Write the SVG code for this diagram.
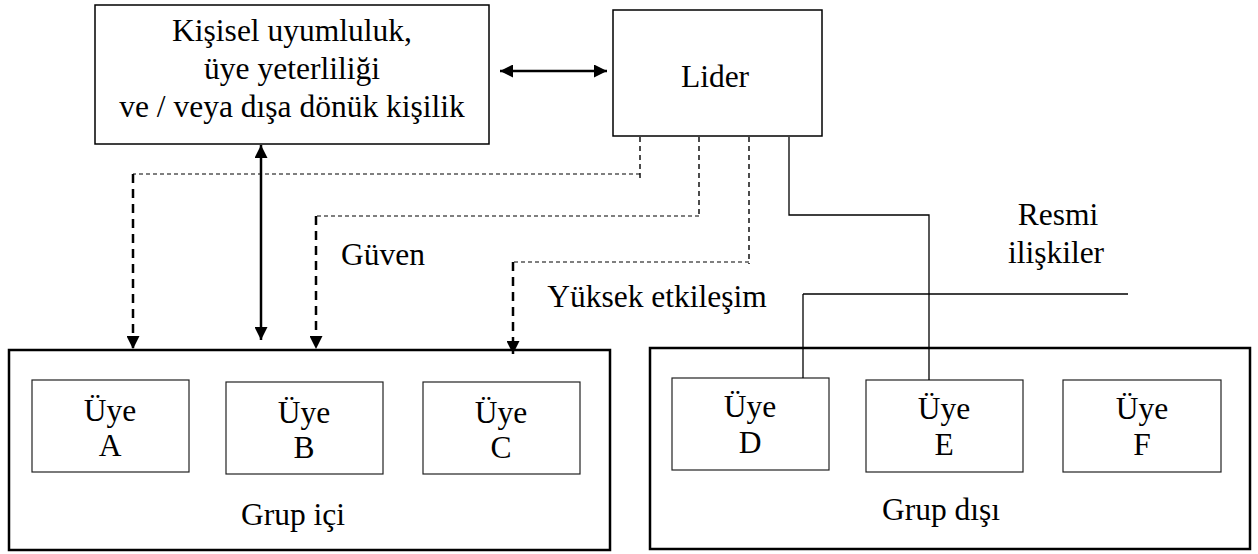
<svg xmlns="http://www.w3.org/2000/svg" width="1258" height="554" viewBox="0 0 1258 554">
<style>
text{font-family:"Liberation Serif","Times New Roman",serif;font-size:31.5px;fill:#000;text-anchor:middle}
.box{fill:#fff;stroke:#000;stroke-width:1.5}
.grp{fill:#fff;stroke:#000;stroke-width:2.5}
.mem{fill:#fff;stroke:#222;stroke-width:1.2}
.solid{fill:none;stroke:#000;stroke-width:1.3}
.thick{fill:none;stroke:#000;stroke-width:2.5}
.dh{fill:none;stroke:#000;stroke-width:1.2;stroke-dasharray:4 3}
.dv{fill:none;stroke:#000;stroke-width:1.4;stroke-dasharray:5 4}
.dvb{fill:none;stroke:#000;stroke-width:2.5;stroke-dasharray:9 6}
</style>
<defs>
<marker id="ahs" viewBox="0 0 10 10" refX="10" refY="5" markerWidth="13" markerHeight="13" markerUnits="userSpaceOnUse" orient="auto-start-reverse">
<path d="M0,0 L10,5 L0,10 z" fill="#000"/>
</marker>
</defs>

<g id="groupIn">
<rect class="grp" x="9" y="350" width="601" height="200"/>
<text x="293" y="525">Grup içi</text>
</g>
<g id="groupOut">
<rect class="grp" x="650" y="348" width="600" height="201"/>
<text x="941" y="520">Grup dışı</text>
</g>

<g id="personal">
<rect class="box" x="95" y="5" width="394" height="139"/>
<text x="292" y="41">Kişisel uyumluluk,</text>
<text x="292" y="79">üye yeterliliği</text>
<text x="292" y="117">ve / veya dışa dönük kişilik</text>
</g>
<g id="leader">
<rect class="box" x="613" y="10" width="209" height="126"/>
<text x="715" y="87">Lider</text>
</g>

<g id="memberA"><rect class="mem" x="32" y="380" width="157" height="92"/><text x="110" y="421">Üye</text><text x="110" y="456">A</text></g>
<g id="memberB"><rect class="mem" x="226" y="382" width="157" height="92"/><text x="304" y="423">Üye</text><text x="304" y="458">B</text></g>
<g id="memberC"><rect class="mem" x="423" y="382" width="157" height="92"/><text x="501" y="423">Üye</text><text x="501" y="458">C</text></g>
<g id="memberD"><rect class="mem" x="672" y="378" width="157" height="92"/><text x="750" y="417">Üye</text><text x="750" y="453">D</text></g>
<g id="memberE"><rect class="mem" x="866" y="380" width="157" height="92"/><text x="944" y="419">Üye</text><text x="944" y="455">E</text></g>
<g id="memberF"><rect class="mem" x="1063" y="380" width="158" height="92"/><text x="1142" y="419">Üye</text><text x="1142" y="455">F</text></g>

<g id="labels">
<text x="383" y="265">Güven</text>
<text x="657" y="307">Yüksek etkileşim</text>
<text x="1058" y="225">Resmi</text>
<text x="1056" y="263">ilişkiler</text>
</g>

<g id="connectors">
<line class="thick" x1="500" y1="71" x2="607" y2="71" marker-start="url(#ahs)" marker-end="url(#ahs)"/>
<line class="thick" x1="261" y1="145" x2="261" y2="340" marker-start="url(#ahs)" marker-end="url(#ahs)"/>
<polyline class="dv" points="640,137 640,180"/>
<polyline class="dh" points="640,174 133,174"/>
<line class="dvb" x1="133" y1="174" x2="133" y2="349" marker-end="url(#ahs)"/>
<polyline class="dv" points="699,137 699,217"/>
<polyline class="dh" points="699,216 316,216"/>
<line class="dvb" x1="316" y1="216" x2="316" y2="349" marker-end="url(#ahs)"/>
<polyline class="dv" points="749,137 749,264"/>
<polyline class="dh" points="749,262 513,262"/>
<line class="dvb" x1="513" y1="262" x2="513" y2="354" marker-end="url(#ahs)"/>
<polyline class="solid" points="789,137 789,215 929,215 929,380"/>
<line class="solid" x1="803" y1="294" x2="1128" y2="294"/>
<line class="solid" x1="803" y1="294" x2="803" y2="378"/>
</g>
</svg>
